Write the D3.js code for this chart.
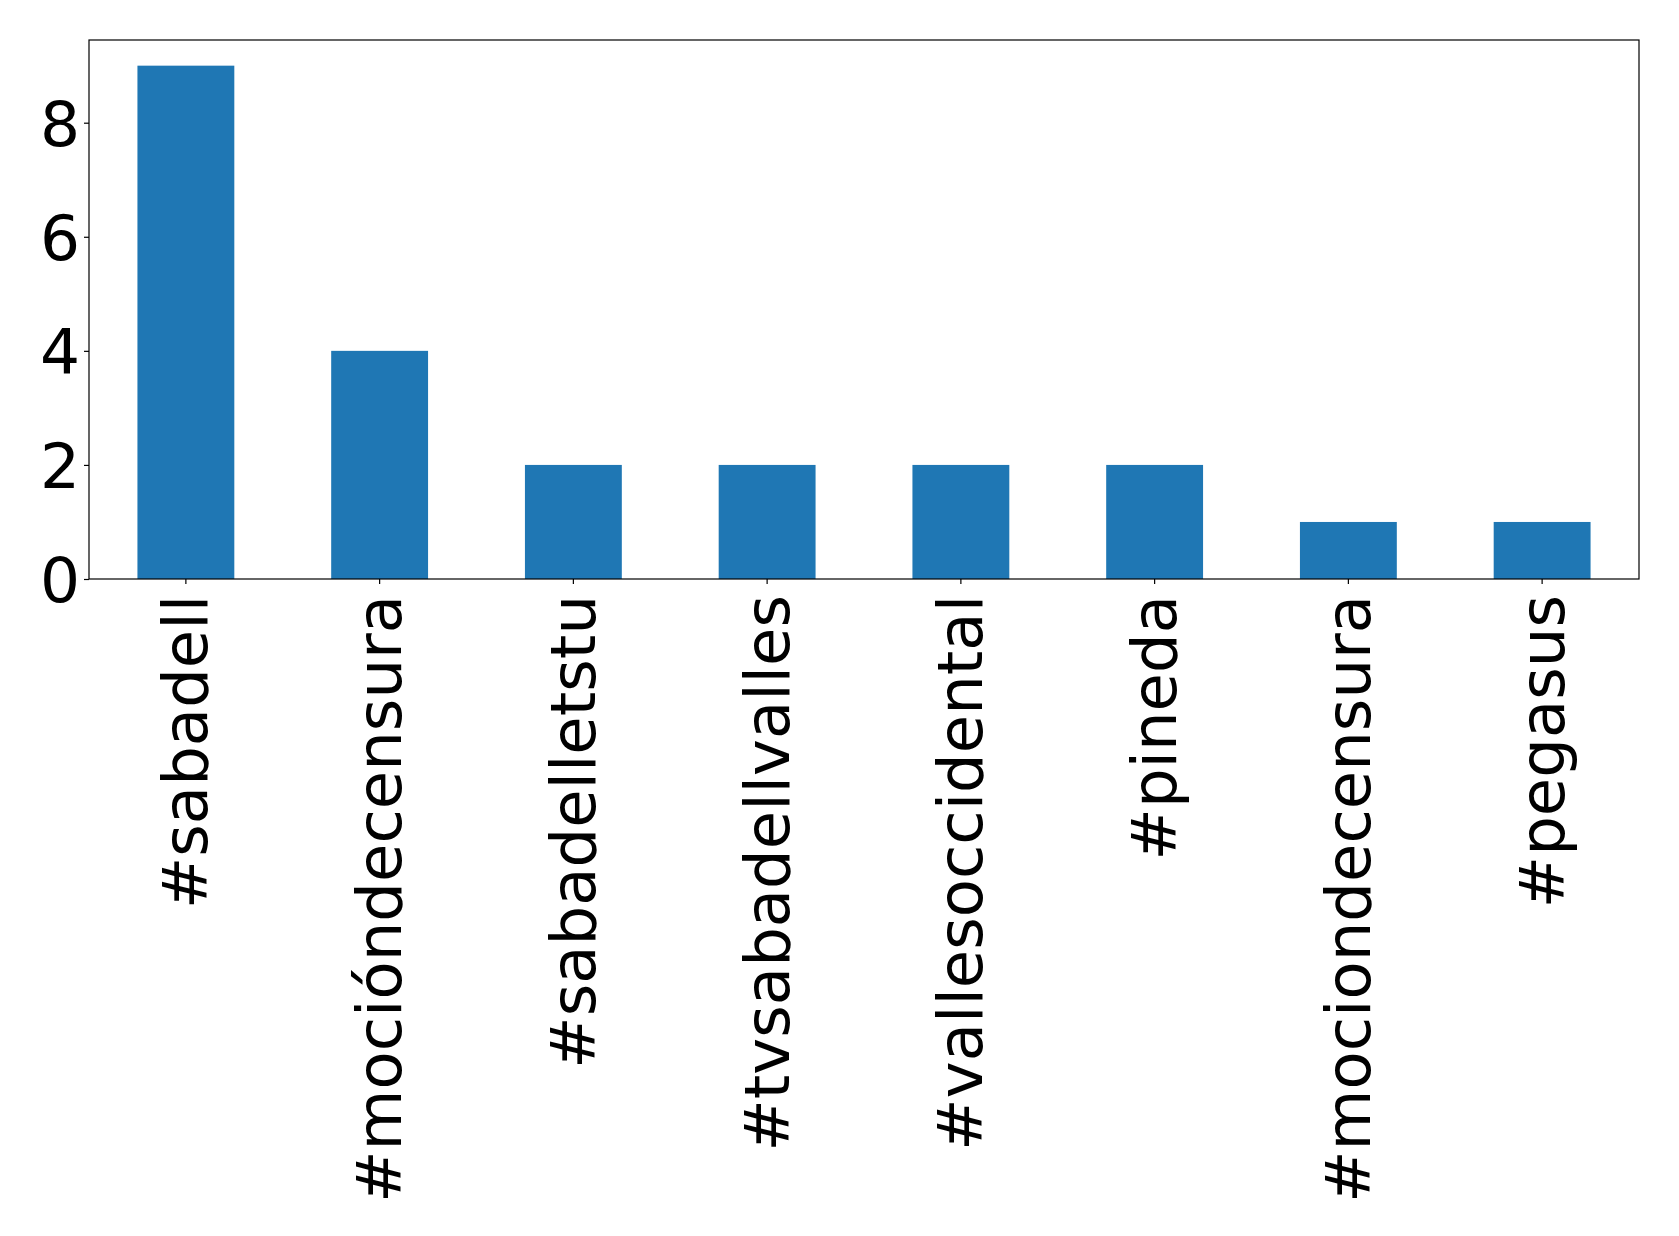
<!DOCTYPE html>
<html>
<head>
<meta charset="utf-8">
<script src="https://cdn.jsdelivr.net/npm/d3@7"></script>
<style>
  html, body { margin: 0; padding: 0; background: #fff; }
  svg { display: block; }
</style>
</head>
<body>
<script>
const categories = ["#sabadell", "#mocióndecensura", "#sabadelletstu", "#tvsabadellvalles",
                    "#vallesoccidental", "#pineda", "#mociondecensura", "#pegasus"];
const values = [9, 4, 2, 2, 2, 2, 1, 1];
const yTicks = [0, 2, 4, 6, 8];

const W = 1679, H = 1236;
const margin = { left: 89, top: 40, right: 40, bottom: 657 };
const plotW = 1639 - margin.left;
const plotH = 579 - margin.top;

const svg = d3.select("body").append("svg").attr("width", W).attr("height", H);
const g = svg.append("g").attr("transform", `translate(${margin.left},${margin.top})`);

const x = d3.scaleBand().domain(categories).range([0, plotW]).paddingInner(0.5).paddingOuter(0.25);
const y = d3.scaleLinear().domain([0, 9 * 1.05]).range([plotH, 0]);

g.selectAll("rect.bar").data(values).enter().append("rect")
  .attr("class", "bar")
  .attr("x", (d, i) => x(categories[i]))
  .attr("width", x.bandwidth())
  .attr("y", d => y(d))
  .attr("height", d => plotH - y(d))
  .attr("fill", "#1f77b4");

const font = "DejaVu Sans";

const yAxis = g.append("g").call(d3.axisLeft(y).tickValues(yTicks).tickSize(5).tickPadding(4).tickFormat(d3.format("d")));
yAxis.select(".domain").remove();
yAxis.selectAll("line").attr("stroke", "#000").attr("stroke-width", 1.2);
yAxis.selectAll("text").attr("font-family", font).attr("font-size", 63).attr("fill", "#000").attr("dy", "0.36em");

const xAxis = g.append("g").attr("transform", `translate(0,${plotH})`)
  .call(d3.axisBottom(x).tickSize(5).tickPadding(0));
xAxis.select(".domain").remove();
xAxis.selectAll("line").attr("stroke", "#000").attr("stroke-width", 1.2);
xAxis.selectAll("text")
  .attr("font-family", font).attr("font-size", 62.5).attr("fill", "#000")
  .attr("text-anchor", "end")
  .attr("dy", null).attr("y", null)
  .attr("dominant-baseline", "central")
  .attr("transform", "translate(0,16) rotate(-90)");

g.append("rect").attr("x", 0).attr("y", 0).attr("width", plotW).attr("height", plotH)
  .attr("fill", "none").attr("stroke", "#000").attr("stroke-width", 1.2);
</script>
</body>
</html>
